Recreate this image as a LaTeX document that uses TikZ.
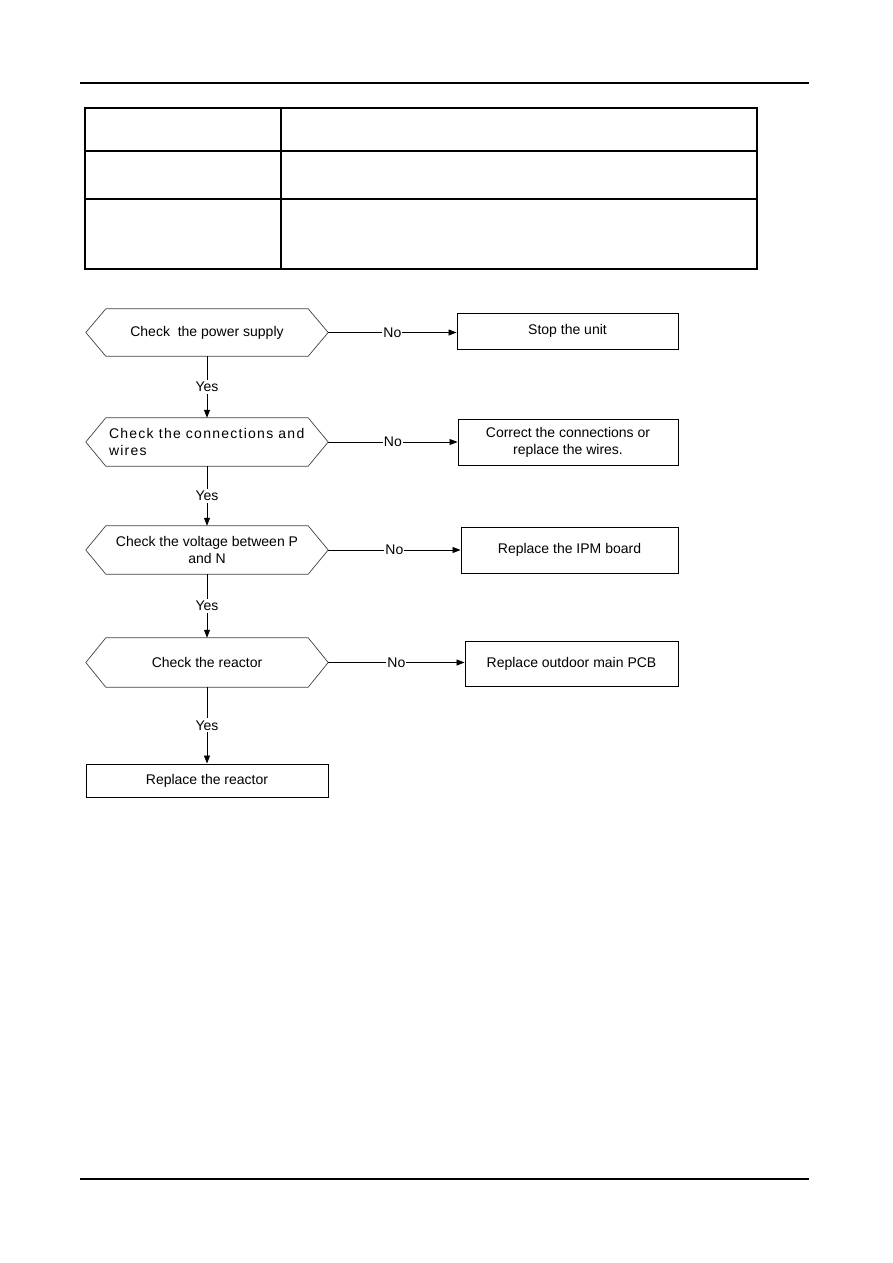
\documentclass[tikz,border=0pt]{standalone}
\usepackage{fontspec}
\setmainfont{Liberation Sans}
\usetikzlibrary{arrows.meta}
\newcommand\hexdraw[1]{\draw[hexline] (#1.west) -- ([xshift=20pt]#1.north west) -- ([xshift=-20pt]#1.north east) -- (#1.east) -- ([xshift=-20pt]#1.south east) -- ([xshift=20pt]#1.south west) -- cycle;}
\begin{document}
\begin{tikzpicture}[x=1pt,y=-1pt,
  every node/.style={font=\fontsize{14}{17}\selectfont, inner sep=0pt},
  box/.style={draw, line width=0.9pt, align=center},
  hexn/.style={align=center, minimum width=242pt},
  hexline/.style={draw=black!75, line width=0.7pt},
  lbl/.style={fill=white, inner sep=1pt},
  arr/.style={line width=0.8pt, -{Triangle[length=8pt,width=6pt]}},
  rulel/.style={line width=1.4pt},
  tbl/.style={line width=1.3pt}]
\useasboundingbox (0,0) rectangle (893,1263);
% page rules
\draw[rulel] (80,83) -- (809,83);
\draw[rulel] (80,1179) -- (809,1179);
% empty table
\draw[tbl] (85,108) rectangle (757,269);
\draw[tbl] (85,151) -- (757,151);
\draw[tbl] (85,199) -- (757,199);
\draw[tbl] (281,108) -- (281,269);
% decision hexagons
\node[hexn, minimum height=47pt] (h1) at (207,332.5) {Check\ \ the power supply};
\node[hexn, minimum height=48pt] (h2) at (207,442) {\hspace*{2pt}\parbox{198pt}{\addfontfeature{LetterSpace=9}\raggedright Check the connections and\\wires}};
\node[hexn, minimum height=48pt] (h3) at (207,550) {Check the voltage between P\\and N};
\node[hexn, minimum height=49pt] (h4) at (207,662.5) {Check the reactor};
\hexdraw{h1}\hexdraw{h2}\hexdraw{h3}\hexdraw{h4}
% action boxes
\node[box, minimum width=221pt, minimum height=36pt] (b1) at (567.5,331) {Stop the unit};
\node[box, minimum width=220pt, minimum height=46pt] (b2) at (568,442) {Correct the connections or\\replace the wires.};
\node[box, minimum width=217pt, minimum height=46pt] (b3) at (569.5,550) {Replace the IPM board};
\node[box, minimum width=213pt, minimum height=45pt] (b4) at (571.5,664) {Replace outdoor main PCB};
\node[box, minimum width=242pt, minimum height=33pt] (b5) at (207,780.5) {Replace the reactor};
% No connectors
\draw[arr] (h1.east) -- node[lbl]{No} (h1.east -| b1.west);
\draw[arr] (h2.east) -- node[lbl]{No} (h2.east -| b2.west);
\draw[arr] (h3.east) -- node[lbl]{No} (h3.east -| b3.west);
\draw[arr] (h4.east) -- node[lbl]{No} (h4.east -| b4.west);
% Yes connectors
\draw[arr] (h1.south) -- node[lbl, inner sep=2pt]{Yes} (h1.south |- h2.north);
\draw[arr] (h2.south) -- node[lbl, inner sep=2pt]{Yes} (h2.south |- h3.north);
\draw[arr] (h3.south) -- node[lbl, inner sep=2pt]{Yes} (h3.south |- h4.north);
\draw[arr] (h4.south) -- node[lbl, inner sep=2pt]{Yes} (h4.south |- b5.north);
\end{tikzpicture}
\end{document}
